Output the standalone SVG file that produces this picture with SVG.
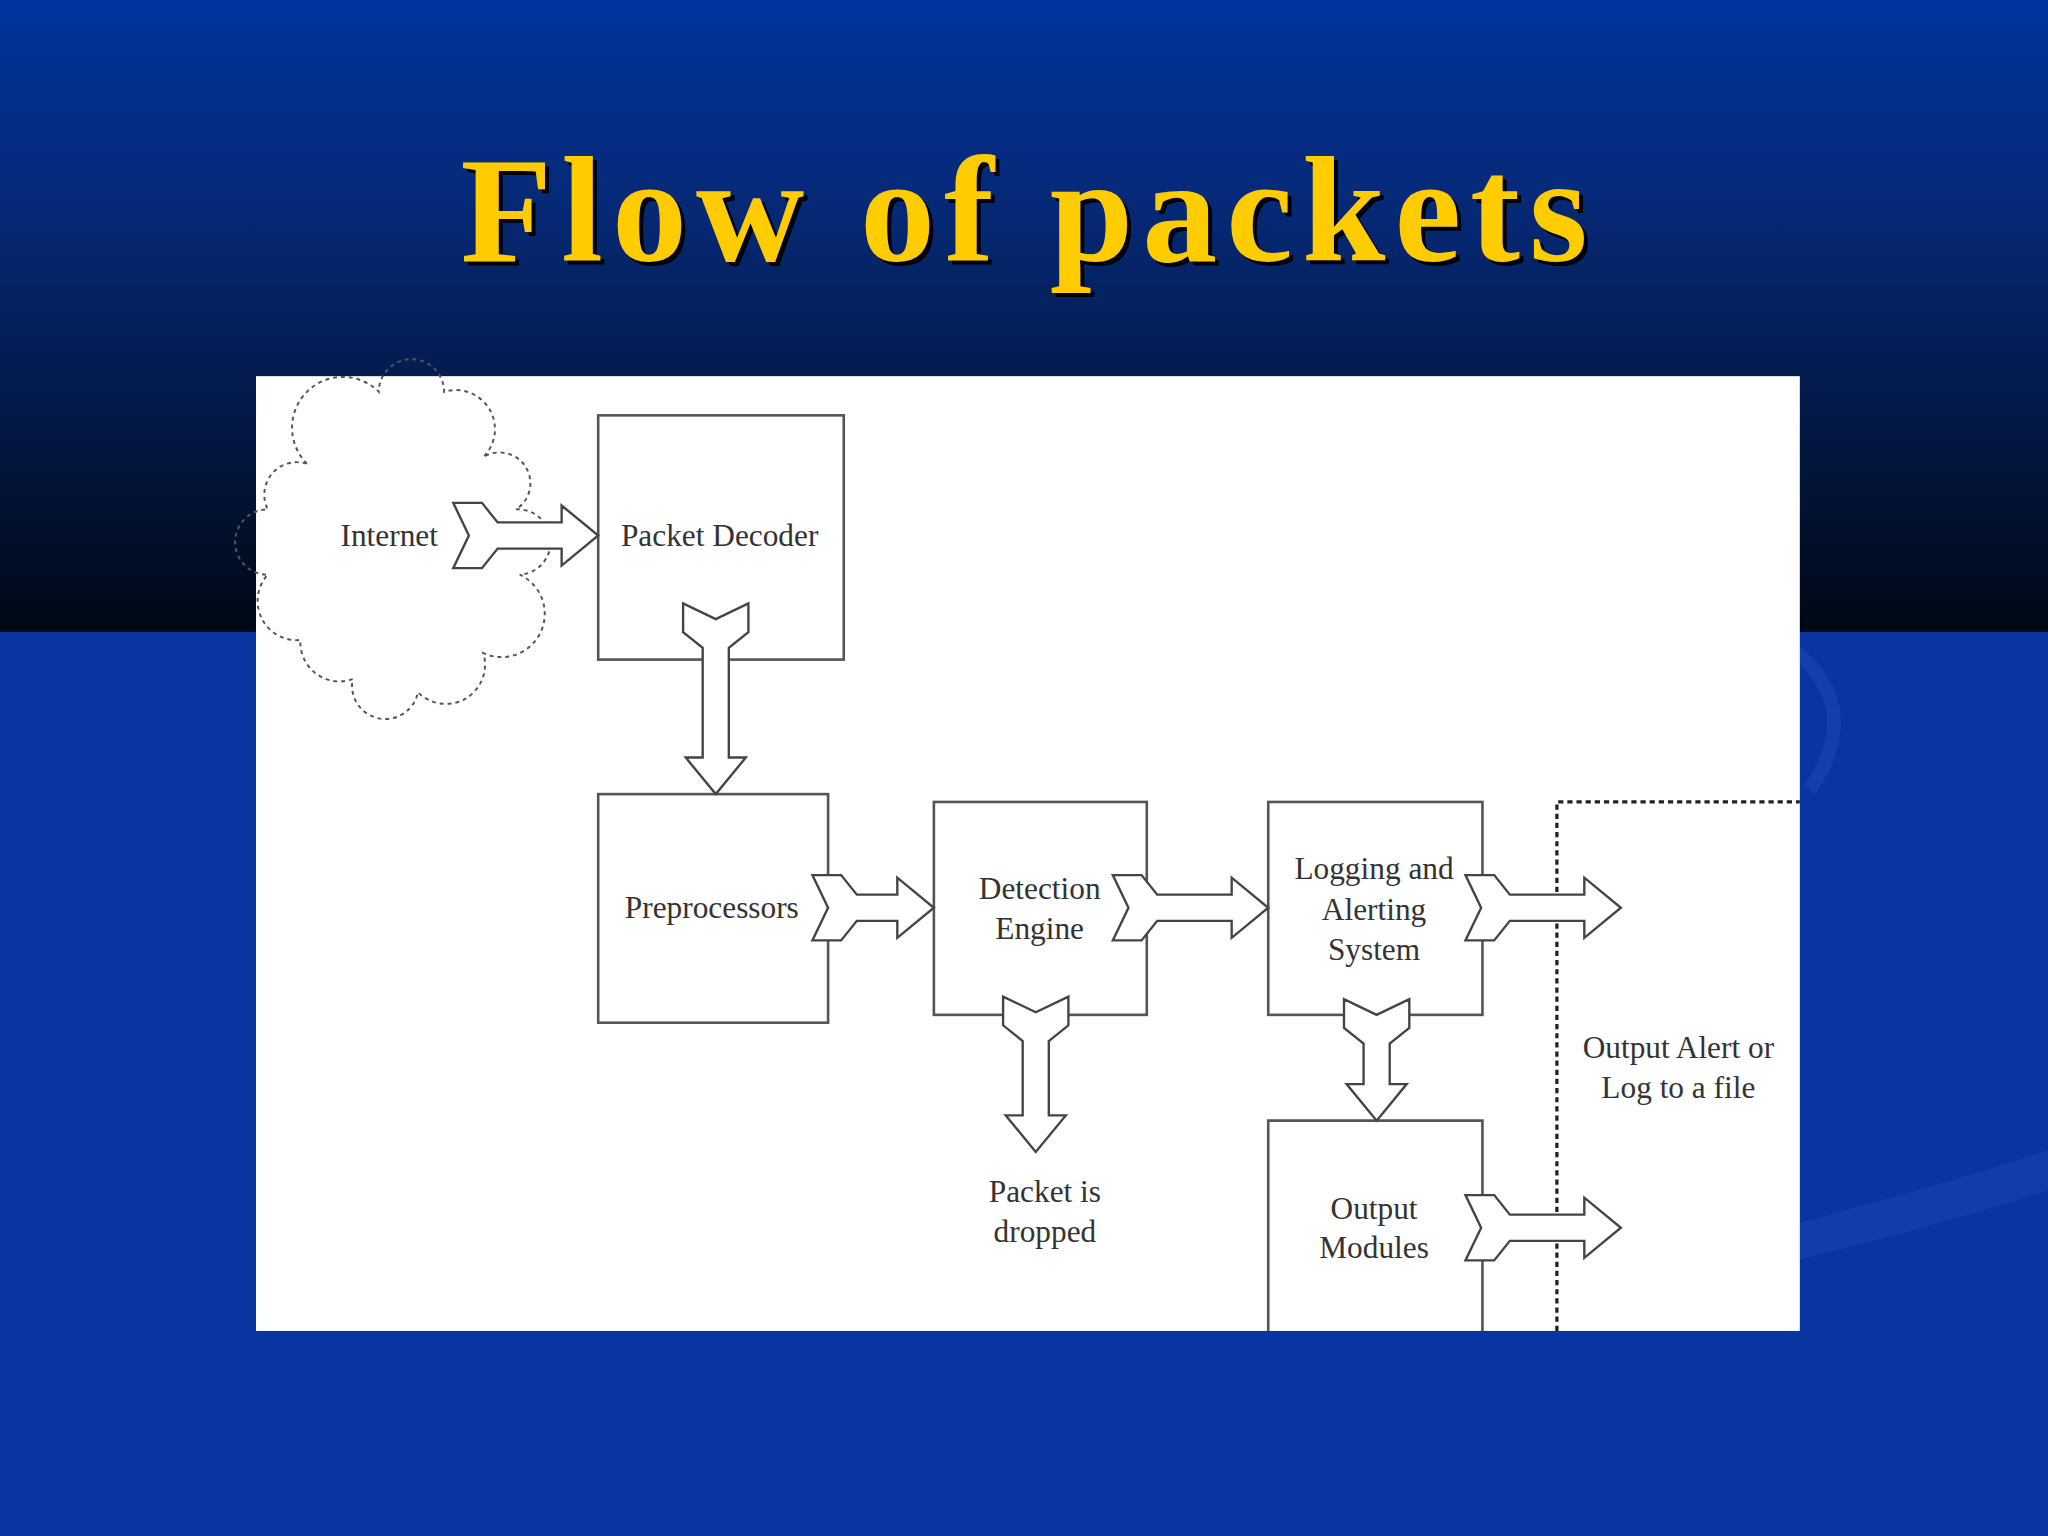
<svg xmlns="http://www.w3.org/2000/svg" width="2048" height="1536" viewBox="0 0 2048 1536">
<defs>
<linearGradient id="bg" x1="0" y1="0" x2="0" y2="1">
<stop offset="0" stop-color="#00339c"/>
<stop offset="0.3" stop-color="#062a7a"/>
<stop offset="1" stop-color="#000814"/>
</linearGradient>
<style>
.box{fill:none;stroke:#555;stroke-width:2}
.arr{fill:#fff;stroke:#444;stroke-width:1.8;stroke-linejoin:miter}
.t{font-family:"Liberation Serif",serif;font-size:24px;fill:#333;text-anchor:middle}
</style>
</defs>
<rect width="2048" height="632" fill="url(#bg)"/>
<rect y="632" width="2048" height="904" fill="#0a35a0"/>
<path d="M1500,1300 Q1900,1200 2048,1150 L2048,1190 Q1900,1240 1500,1330 Z" fill="#1a45b0" opacity="0.5"/>
<path d="M1780,640 Q1870,700 1810,790" fill="none" stroke="#1a45b0" stroke-width="14" opacity="0.6"/>
<text x="1028" y="265" font-family="Liberation Serif,serif" font-weight="bold" font-size="150" text-anchor="middle" textLength="1127" fill="#000">Flow of packets</text>
<text x="1024" y="261" font-family="Liberation Serif,serif" font-weight="bold" font-size="150" text-anchor="middle" textLength="1127" fill="#ffcc00">Flow of packets</text>
<g transform="scale(1.30612)">
<rect x="196" y="288" width="1182" height="731" fill="#fff"/>
<g id="internet">
<path d="M235,355 A30,30 0 0 1 290,300 A25,25 0 0 1 340,300 A30,30 0 0 1 370,350 A22,22 0 0 1 395,390 A25,25 0 0 1 398,440 A30,30 0 0 1 370,500 A30,30 0 0 1 320,530 A25,25 0 0 1 270,520 A30,30 0 0 1 230,490 A30,30 0 0 1 205,440 A25,25 0 0 1 205,390 A25,25 0 0 1 235,355 Z" fill="none" stroke="#555" stroke-width="1.5" stroke-dasharray="3,3"/>
<text class="t" x="298" y="418">Internet</text>
</g>
<g id="decoder"><rect class="box" x="458" y="318" width="188" height="187"/><text class="t" x="551" y="418">Packet Decoder</text></g>
<g id="preproc"><rect class="box" x="458" y="608" width="176" height="175"/><text class="t" x="545" y="703">Preprocessors</text></g>
<g id="detection"><rect class="box" x="715" y="614" width="163" height="163"/><text class="t" x="796" y="688">Detection</text><text class="t" x="796" y="719">Engine</text></g>
<g id="logging"><rect class="box" x="971" y="614" width="164" height="163"/><text class="t" x="1052" y="673">Logging and</text><text class="t" x="1052" y="704">Alerting</text><text class="t" x="1052" y="735">System</text></g>
<g id="output"><path class="box" d="M971,1019 V858 H1135 V1019"/><text class="t" x="1052" y="933">Output</text><text class="t" x="1052" y="963">Modules</text></g>
<g id="dropped"><text class="t" x="800" y="920">Packet is</text><text class="t" x="800" y="951">dropped</text></g>
<g id="alertfile"><path d="M1192,1019 V614 H1378" fill="none" stroke="#222" stroke-width="2.5" stroke-dasharray="4,3"/><text class="t" x="1285" y="810">Output Alert or</text><text class="t" x="1285" y="841">Log to a file</text></g>
<g id="connectors">
<path class="arr" transform="translate(347,410)" d="M0,-25 L22,-25 L34,-10 L83,-10 L83,-23 L111,0 L83,23 L83,10 L34,10 L22,25 L0,25 L12,0 Z"/>
<path class="arr" transform="translate(548,462) rotate(90)" d="M0,-25 L22,-25 L34,-10 L118,-10 L118,-23 L146,0 L118,23 L118,10 L34,10 L22,25 L0,25 L12,0 Z"/>
<path class="arr" transform="translate(622,695)" d="M0,-25 L22,-25 L34,-10 L65,-10 L65,-23 L93,0 L65,23 L65,10 L34,10 L22,25 L0,25 L12,0 Z"/>
<path class="arr" transform="translate(852,695)" d="M0,-25 L22,-25 L34,-10 L91,-10 L91,-23 L119,0 L91,23 L91,10 L34,10 L22,25 L0,25 L12,0 Z"/>
<path class="arr" transform="translate(1122,695)" d="M0,-25 L22,-25 L34,-10 L91,-10 L91,-23 L119,0 L91,23 L91,10 L34,10 L22,25 L0,25 L12,0 Z"/>
<path class="arr" transform="translate(793,763) rotate(90)" d="M0,-25 L22,-25 L34,-10 L91,-10 L91,-23 L119,0 L91,23 L91,10 L34,10 L22,25 L0,25 L12,0 Z"/>
<path class="arr" transform="translate(1054,765) rotate(90)" d="M0,-25 L22,-25 L34,-10 L65,-10 L65,-23 L93,0 L65,23 L65,10 L34,10 L22,25 L0,25 L12,0 Z"/>
<path class="arr" transform="translate(1122,940)" d="M0,-25 L22,-25 L34,-10 L91,-10 L91,-23 L119,0 L91,23 L91,10 L34,10 L22,25 L0,25 L12,0 Z"/>
</g>
</g>
</svg>
